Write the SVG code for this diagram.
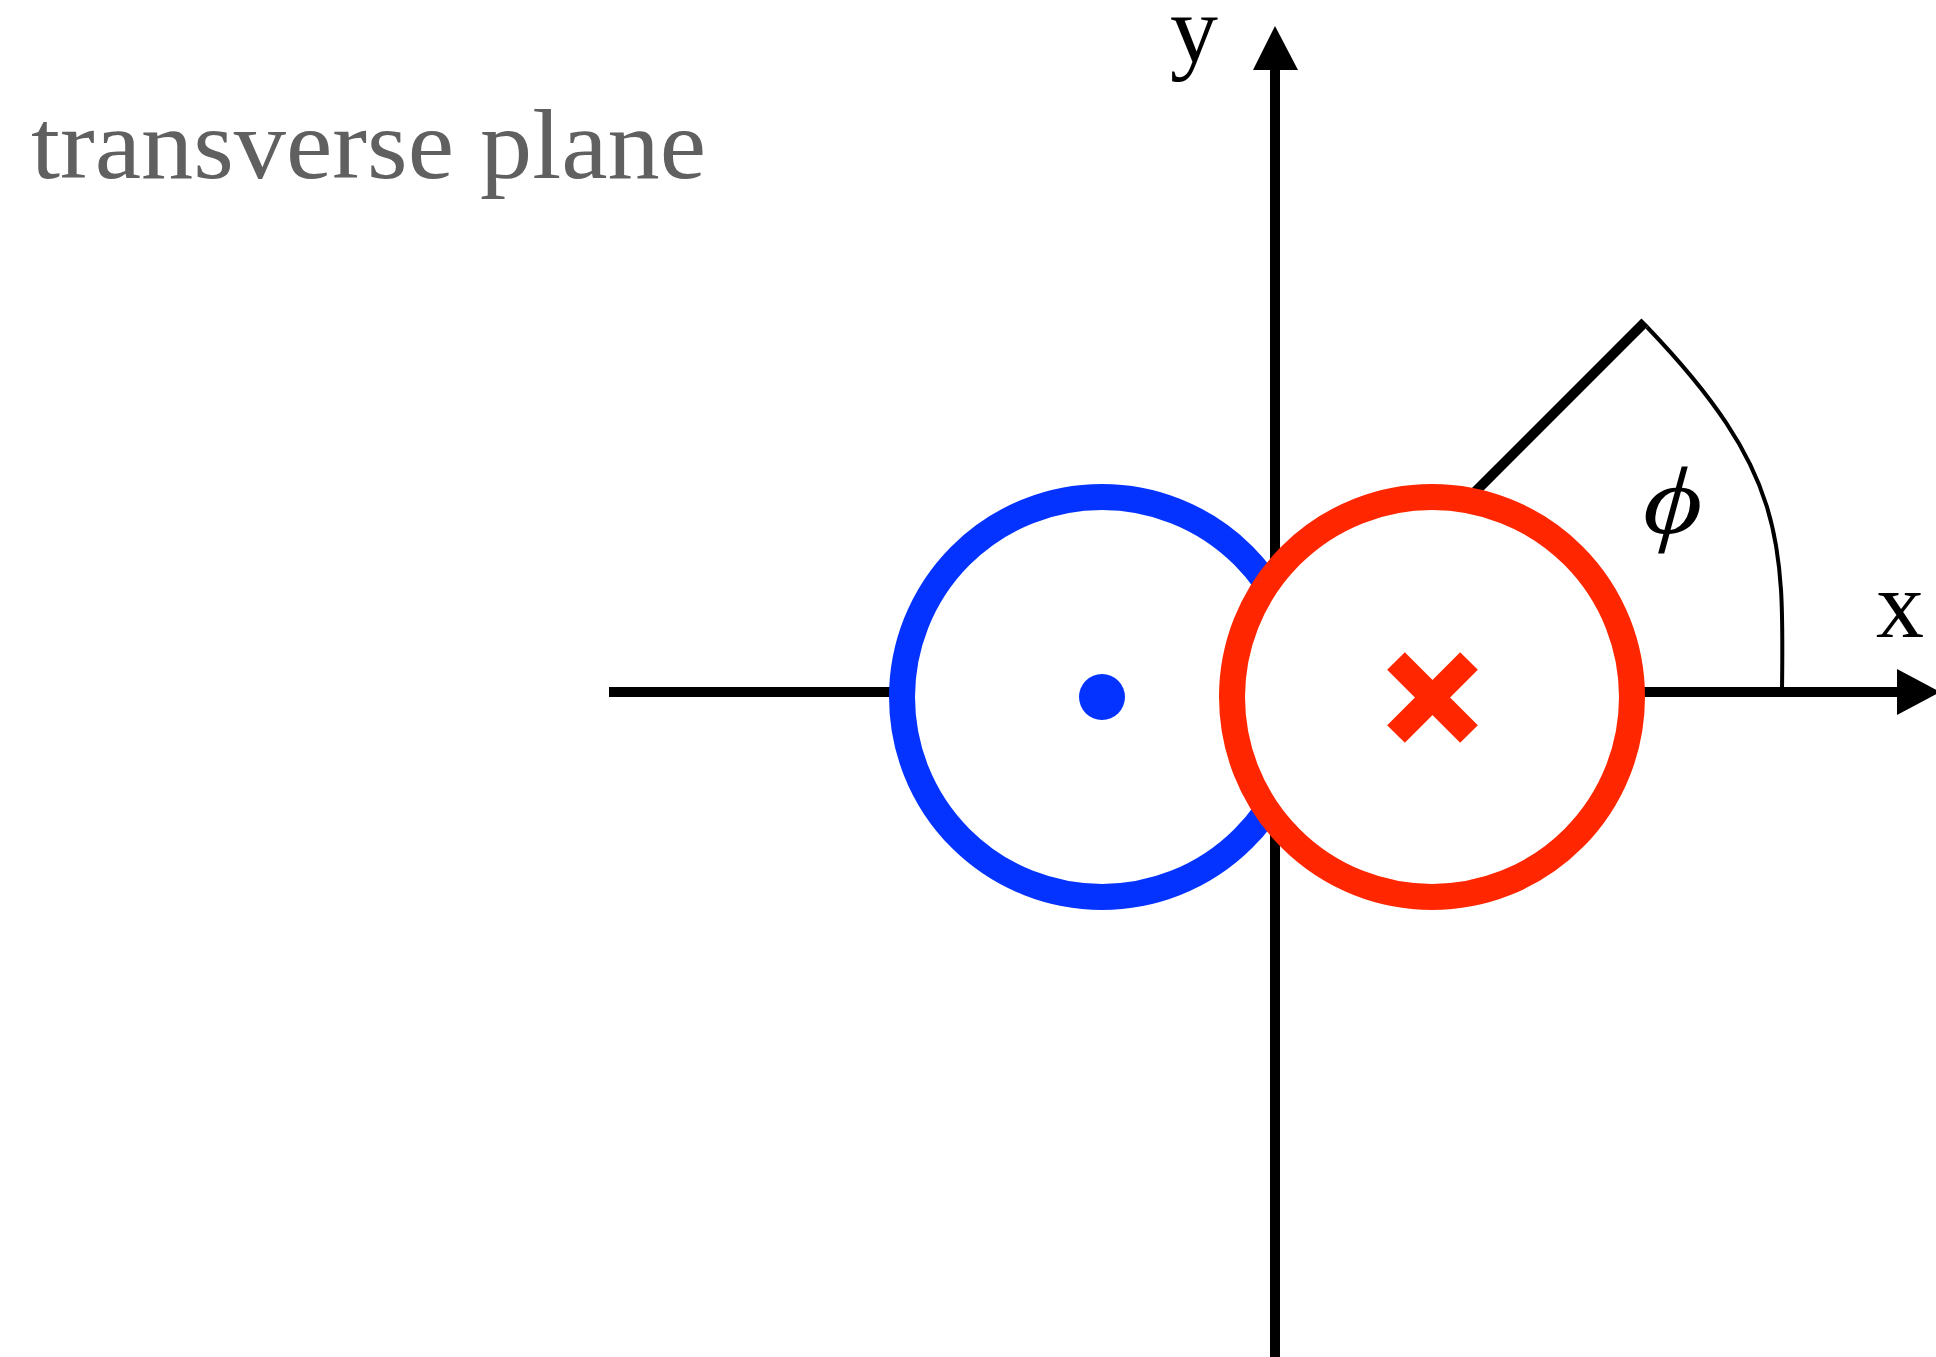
<svg xmlns="http://www.w3.org/2000/svg" width="1936" height="1357" viewBox="0 0 1936 1357">
  <style>
    .axis { stroke: #000; stroke-width: 10; fill: none; }
    .ring { fill: #fff; stroke-width: 26; }
    .lbl { font-family: "Liberation Serif", "DejaVu Serif", serif; font-size: 96px; fill: #000; }
  </style>
  <rect width="1936" height="1357" fill="#fff"/>
  <g id="connectors">
    <line class="axis" x1="609" y1="692" x2="1900" y2="692"/>
    <polygon points="1897,669 1897,715 1940,692" fill="#000"/>
    <line class="axis" x1="1275" y1="1357" x2="1275" y2="66"/>
    <polygon points="1253,70 1298,70 1275,26" fill="#000"/>
    <line class="axis" x1="1275" y1="692" x2="1645" y2="322" stroke-linecap="butt"/>
    <path d="M1647,327 C1784,470 1784,540 1782,690" fill="none" stroke="#000" stroke-width="4"/>
  </g>
  <g id="blue-wire">
    <circle class="ring" cx="1102" cy="697" r="200" stroke="#0433ff"/>
    <circle cx="1102" cy="697" r="23" fill="#0433ff"/>
  </g>
  <g id="red-wire">
    <circle class="ring" cx="1432" cy="697" r="200" stroke="#ff2600"/>
    <g stroke="#ff2600" stroke-width="25">
      <line x1="1396" y1="661" x2="1469" y2="734"/>
      <line x1="1469" y1="661" x2="1396" y2="734"/>
    </g>
  </g>
  <g id="labels">
    <text x="31" y="178" font-family="Liberation Serif, serif" font-size="100" fill="#606060" textLength="675" lengthAdjust="spacingAndGlyphs">transverse plane</text>
    <text class="lbl" x="1170" y="62">y</text>
    <text class="lbl" x="1876" y="637">x</text>
    <text class="lbl" transform="translate(1642,533) scale(1.18,1) skewX(-3)" x="0" y="0" font-style="italic">ϕ</text>
  </g>
</svg>
